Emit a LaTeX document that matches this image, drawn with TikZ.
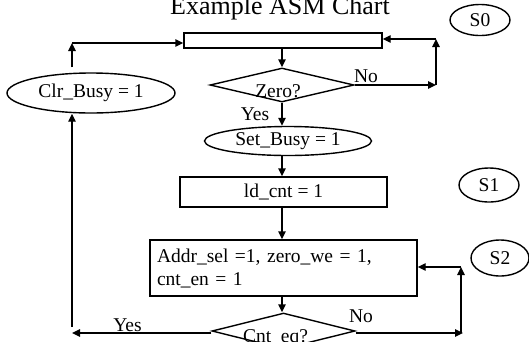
\documentclass[tikz,border=0pt]{standalone}
\usepackage{fontspec}
\setmainfont{Liberation Serif}
\usetikzlibrary{shapes.geometric,arrows.meta,calc}
\begin{document}
\begin{tikzpicture}[x=1pt,y=-1pt,
  every node/.style={font=\fontsize{19.5}{23}\selectfont},
  ln/.style={line width=1.4pt},
  arr/.style={ln,-{Triangle[length=8pt,width=7.5pt]}},
  boxr/.style={draw,ln,rectangle,inner sep=0pt},
  oval/.style={draw,ln,ellipse,inner sep=0pt},
  dia/.style={draw,ln,diamond,inner sep=0pt},
  txt/.style={anchor=base,inner sep=0pt}]
\useasboundingbox (0,0) rectangle (529,341);
% title
\node[txt,font=\fontsize{26}{30}\selectfont] (title) at (280,14) {Example ASM Chart};
% state labels
\node[oval,minimum width=60pt,minimum height=31pt] (s0) at (480,20) {S0};
\node[oval,minimum width=60pt,minimum height=34pt] (s1) at (489,185) {S1};
\node[oval,minimum width=58pt,minimum height=36pt] (s2) at (500,258) {S2};
% S0
\node[boxr,minimum width=198pt,minimum height=15pt] (r0) at (283,40.5) {};
\node[dia,minimum width=144pt,minimum height=34pt] (d0) at (282,85) {};
\node[txt] (d0t) at (278,97.5) {Zero?};
\node[oval,minimum width=168pt,minimum height=40pt] (e0) at (91,93) {Clr\_Busy = 1};
\node[oval,minimum width=167pt,minimum height=29pt] (e1) at (288,141) {Set\_Busy = 1};
% S1
\node[boxr,minimum width=207pt,minimum height=30pt] (r1) at (283.5,192) {ld\_cnt = 1};
% S2
\node[boxr,minimum width=267pt,minimum height=56pt,text width=253pt,align=left,inner sep=7pt] (r2) at (283.5,268)
  {Addr\_sel =1, zero\_we = 1,\\cnt\_en = 1};
\node[dia,minimum width=143pt,minimum height=36pt] (d1) at (283.5,331) {};
\node[txt] (d1t) at (275.5,342) {Cnt\_eq?};
% coordinates for loops
\coordinate (c1) at (72,43);
\coordinate (c2) at (436,85);
\coordinate (c3) at (436,39);
\coordinate (c4) at (463,333);
\coordinate (c5) at (461,267);
\coordinate (c6) at (72,333);
\coordinate (c7) at (72,327);
% connectors
\draw[arr,shorten <=5pt] (e0.north -| c1) -- (c1);
\draw[arr] (c1) -- (c1 -| r0.west);
\draw[arr] (r0.south -| d0.north) -- (d0.north);
\draw[arr] (d0.east) -- (c2);
\draw[arr] (c2) -- (c3);
\draw[arr] (c3) -- (c3 -| r0.east);
\draw[arr] (d0.south) -- (d0.south |- e1.north);
\draw[arr] (d0.south |- e1.south) -- (d0.south |- r1.north);
\draw[arr] (d0.south |- r1.south) -- (d0.south |- r2.north);
\draw[arr] (d0.south |- r2.south) -- (d0.south |- d1.north);
\draw[arr] (d1.east |- c4) -- (c4);
\draw[arr] (c5 |- c4) -- (c5);
\draw[arr] (c5) -- (c5 -| r2.east);
\draw[arr] (d1.west |- c6) -- (c6);
\draw[arr] (c7) -- (c7 |- e0.south);
% labels
\node[txt] (no0) at (366,82) {No};
\node[txt] (yes0) at (255,120) {Yes};
\node[txt] (no1) at (361,322) {No};
\node[txt] (yes1) at (127.5,331) {Yes};
\end{tikzpicture}
\end{document}
